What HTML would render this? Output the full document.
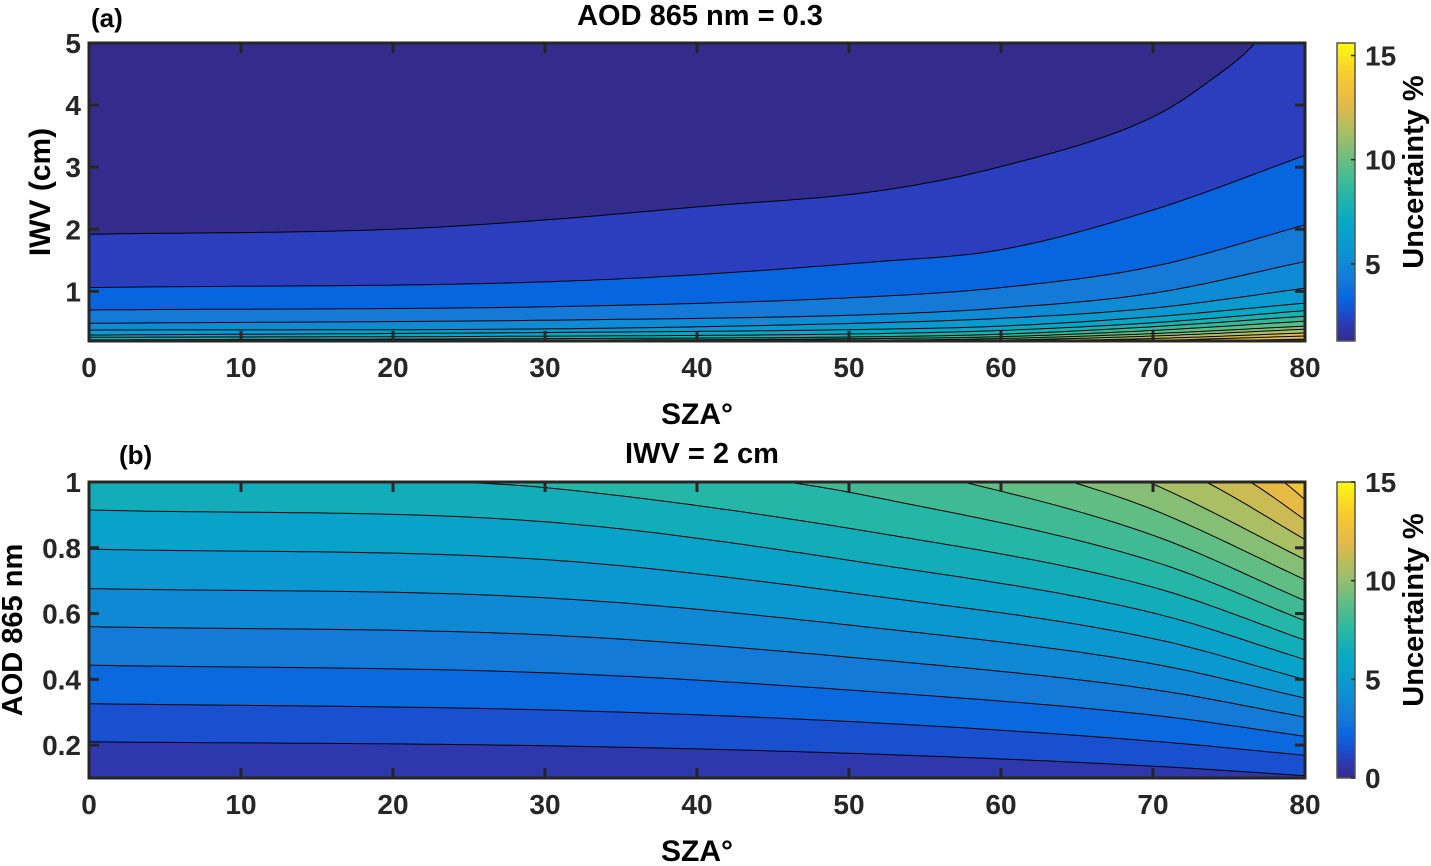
<!DOCTYPE html>
<html><head><meta charset="utf-8"><style>
html,body{margin:0;padding:0;background:#fff;}
svg{display:block;font-family:"Liberation Sans",Arial,sans-serif;font-weight:bold;}
</style></head><body>
<svg id="fig" width="1431" height="866" viewBox="0 0 1431 866" xmlns="http://www.w3.org/2000/svg">
<defs>
<clipPath id="clipA"><rect x="89" y="43" width="1216" height="298"/></clipPath>
<clipPath id="clipB"><rect x="89" y="482" width="1216" height="296"/></clipPath>
</defs>
<g id="panelA"></g>
<g id="panelB"></g>
<text x="91" y="27" font-size="26">(a)</text>
<text x="700" y="25" font-size="29" text-anchor="middle">AOD 865 nm = 0.3</text>
<text x="697" y="424" font-size="30" text-anchor="middle">SZA°</text>
<text transform="translate(50,192) rotate(-90)" font-size="30" text-anchor="middle">IWV (cm)</text>
<text transform="translate(1423,172) rotate(-90)" font-size="29" text-anchor="middle">Uncertainty %</text>
<text x="119" y="464" font-size="26">(b)</text>
<text x="702" y="463" font-size="29" text-anchor="middle">IWV = 2 cm</text>
<text x="697" y="861" font-size="30" text-anchor="middle">SZA°</text>
<text transform="translate(22,630) rotate(-90)" font-size="29" text-anchor="middle">AOD 865 nm</text>
<text transform="translate(1423,610) rotate(-90)" font-size="29" text-anchor="middle">Uncertainty %</text>
</svg>
<script>
// ---------- data ----------
// Panel (a): contour lines, pairs [SZA, IWV], top line first
const contoursA = [
 [[0,1.92],[20,2.0],[30,2.15],[40,2.36],[52,2.62],[60,3.01],[70,3.81],[73.5,4.35],[76.9,5.05],[79,5.8]],
 [[0,1.06],[32,1.17],[52,1.48],[60,1.67],[70,2.31],[80,3.19]],
 [[0,0.70],[32,0.76],[52,0.92],[60,1.06],[70,1.40],[80,2.07]],
 [[0,0.485],[32,0.54],[52,0.63],[60,0.73],[70,0.97],[80,1.48]],
 [[0,0.376],[32,0.40],[52,0.495],[60,0.565],[70,0.73],[80,1.05]],
 [[0,0.296],[32,0.34],[52,0.39],[60,0.44],[70,0.59],[80,0.81]],
 [[0,0.26],[32,0.28],[52,0.32],[60,0.37],[70,0.495],[80,0.69]],
 [[0,0.22],[32,0.24],[52,0.27],[60,0.31],[70,0.43],[80,0.60]],
 [[0,0.20],[32,0.215],[52,0.24],[60,0.27],[70,0.37],[80,0.52]],
 [[0,0.185],[32,0.195],[52,0.215],[60,0.24],[70,0.32],[80,0.44]],
 [[0,0.17],[52,0.195],[60,0.215],[70,0.28],[80,0.39]],
 [[0,0.16],[52,0.18],[60,0.20],[70,0.24],[80,0.33]],
 [[0,0.15],[52,0.165],[60,0.18],[70,0.21],[80,0.28]],
 [[0,0.14],[52,0.15],[60,0.165],[70,0.19],[80,0.23]]
];
// Panel (a) band uncertainty values, from above top line downward
const bandsA = [1.4,2.3,3.3,4.2,5.1,6.0,6.9,7.8,8.7,9.6,10.5,11.4,12.3,13.2,14.1];
// Panel (b): contour lines, pairs [SZA, AOD], bottom line first
const contoursB = [
 [[0,0.210],[30,0.198],[52,0.172],[70,0.136],[80,0.107]],
 [[0,0.326],[30,0.307],[52,0.267],[70,0.212],[80,0.169]],
 [[0,0.443],[30,0.420],[52,0.361],[70,0.291],[80,0.227]],
 [[0,0.560],[30,0.535],[52,0.459],[70,0.369],[80,0.285]],
 [[0,0.676],[30,0.648],[52,0.555],[70,0.447],[80,0.343]],
 [[0,0.796],[30,0.764],[52,0.651],[70,0.524],[80,0.399]],
 [[0,0.915],[30,0.879],[52,0.748],[70,0.602],[80,0.460]],
 [[0,1.03],[24,1.0],[30,0.983],[52,0.844],[70,0.680],[80,0.519]],
 [[0,1.15],[30,1.07],[45.9,1.0],[52,0.951],[70,0.759],[80,0.578]],
 [[40,1.16],[57.5,1.0],[70,0.838],[80,0.639]],
 [[50,1.2],[64.7,1.0],[70,0.916],[80,0.703]],
 [[58,1.2],[70,0.994],[80,0.764]],
 [[64,1.2],[73.5,1.0],[80,0.825]],
 [[69,1.17],[76.4,1.0],[80,0.885]],
 [[73,1.13],[78.6,1.0],[80,0.946]]
];
// Panel (b) band uncertainty values, from below bottom line upward
const bandsB = [0.7,1.5,2.3,3.1,3.9,4.8,5.6,6.5,7.3,8.1,8.9,9.7,10.5,11.3,12.1,12.9];
const xTicks = [0,10,20,30,40,50,60,70,80];
const yTicksA = [1,2,3,4,5];
const yTicksB = [0.2,0.4,0.6,0.8,1];
const cbTicksA = [5,10,15];
const cbTicksB = [0,5,10,15];

// ---------- helpers ----------
const NS = "http://www.w3.org/2000/svg";
const PAL = [[0,53,42,135],[0.07,42,62,190],[0.13,5,98,225],[0.2,20,120,215],[0.3,12,148,210],[0.4,8,168,198],[0.5,40,184,162],[0.6,100,190,130],[0.7,170,190,100],[0.8,230,185,72],[0.9,250,205,45],[1,249,251,14]];
function parula(t){t=Math.max(0,Math.min(1,t));for(let i=1;i<PAL.length;i++){if(t<=PAL[i][0]){const a=PAL[i-1],b=PAL[i],f=(t-a[0])/(b[0]-a[0]);return `rgb(${Math.round(a[1]+f*(b[1]-a[1]))},${Math.round(a[2]+f*(b[2]-a[2]))},${Math.round(a[3]+f*(b[3]-a[3]))})`;}}return "rgb(249,251,14)";}
function mk(tag,attrs,parent){const e=document.createElementNS(NS,tag);for(const k in attrs)e.setAttribute(k,attrs[k]);parent.appendChild(e);return e;}
function interp(pts,x){ // monotone cubic
 const n=pts.length; if(x<=pts[0][0])return pts[0][1]; if(x>=pts[n-1][0])return pts[n-1][1];
 const d=[],m=[];for(let i=0;i<n-1;i++)d.push((pts[i+1][1]-pts[i][1])/(pts[i+1][0]-pts[i][0]));
 m[0]=d[0];m[n-1]=d[n-2];for(let i=1;i<n-1;i++)m[i]=(d[i-1]*d[i]<=0)?0:(d[i-1]+d[i])/2;
 let i=0;while(x>pts[i+1][0])i++;const h=pts[i+1][0]-pts[i][0],t=(x-pts[i][0])/h,t2=t*t,t3=t2*t;
 return (2*t3-3*t2+1)*pts[i][1]+(t3-2*t2+t)*h*m[i]+(-2*t3+3*t2)*pts[i+1][1]+(t3-t2)*h*m[i+1];}
function linePts(pts,sx,sy){const a=[];for(let s=0;s<=80.001;s+=0.5)a.push(sx(s).toFixed(1)+","+sy(interp(pts,s)).toFixed(1));return a;}

function panel(g,cfg){
 const {x0,y0,w,h,ymin,ymax,clip}=cfg;
 const sx=s=>x0+(s-0)/80*w, sy=v=>y0+h-(v-ymin)/(ymax-ymin)*h;
 const cg=mk("g",{"clip-path":`url(#${clip})`},g);
 
 
 const bg=mk("rect",{x:x0,y:y0,width:w,height:h,fill:cfg.bgColor},cg);
 
 
 cfg.order.forEach(k=>{
  const p=linePts(cfg.lines[k],sx,sy);
  const poly=mk("polygon",{points:p.join(" ")+` ${x0+w},${y0-400} ${x0},${y0-400}`,fill:cfg.colorAbove(k)},cg);
  
  
 });
 cfg.lines.forEach(L=>{
  const pl=mk("polyline",{points:linePts(L,sx,sy).join(" "),fill:"none",stroke:"#000","stroke-width":1},cg);
  
  
 });
 const fr=mk("rect",{x:x0,y:y0,width:w,height:h,fill:"none",stroke:"#262626","stroke-width":3},g);
 
 
 xTicks.forEach(t=>{const X=sx(t);
  mk("line",{x1:X,x2:X,y1:y0+h,y2:y0+h-10,stroke:"#262626","stroke-width":3},g);
  mk("line",{x1:X,x2:X,y1:y0,y2:y0+10,stroke:"#262626","stroke-width":3},g);
  const tx=mk("text",{x:X,y:y0+h+36,"font-size":28,"text-anchor":"middle",fill:"#262626"},g);tx.textContent=t;
  
  });
 cfg.yTicks.forEach(t=>{const Y=sy(t);
  mk("line",{x1:x0,x2:x0+10,y1:Y,y2:Y,stroke:"#262626","stroke-width":3},g);
  mk("line",{x1:x0+w,x2:x0+w-10,y1:Y,y2:Y,stroke:"#262626","stroke-width":3},g);
  const tx=mk("text",{x:x0-8,y:Y+10,"font-size":28,"text-anchor":"end",fill:"#262626"},g);tx.textContent=t;
  
  });
 const cx=1337,cw=18,id="grad"+clip;
 const gr=mk("linearGradient",{id:id,x1:0,y1:1,x2:0,y2:0},document.querySelector("defs"));
 for(let i=0;i<=20;i++)mk("stop",{offset:i/20,"stop-color":parula(i/20)},gr);
 const cb=mk("rect",{x:cx,y:y0,width:cw,height:h,fill:`url(#${id})`,stroke:"#555","stroke-width":1.5},g);
 
 
 const cy=v=>y0+h-(v-cfg.cmin)/(cfg.cmax-cfg.cmin)*h;
 cfg.cbTicks.forEach(t=>{const Y=cy(t);
  mk("line",{x1:cx+cw-4,x2:cx+cw,y1:Y,y2:Y,stroke:"#262626","stroke-width":1.5},g);
  const tx=mk("text",{x:cx+28,y:Y+10,"font-size":28,fill:"#262626"},g);tx.textContent=t;
  
  });
}
const cA={min:1.3,max:15.6}, cB={min:0,max:15};
panel(document.getElementById("panelA"),{x0:89,y0:43,w:1216,h:298,ymin:0.2,ymax:5,clip:"clipA",lines:contoursA,yTicks:yTicksA,cbTicks:cbTicksA,cmin:cA.min,cmax:cA.max,
 bgColor:parula((bandsA[bandsA.length-1]-cA.min)/(cA.max-cA.min)),
 order:contoursA.map((_,i)=>contoursA.length-1-i),
 colorAbove:k=>parula((bandsA[k]-cA.min)/(cA.max-cA.min))});
panel(document.getElementById("panelB"),{x0:89,y0:482,w:1216,h:296,ymin:0.1,ymax:1,clip:"clipB",lines:contoursB,yTicks:yTicksB,cbTicks:cbTicksB,cmin:cB.min,cmax:cB.max,
 bgColor:parula((bandsB[0]-cB.min)/(cB.max-cB.min)),
 order:contoursB.map((_,i)=>i),
 colorAbove:k=>parula((bandsB[k+1]-cB.min)/(cB.max-cB.min))});
</script>
</body></html>
